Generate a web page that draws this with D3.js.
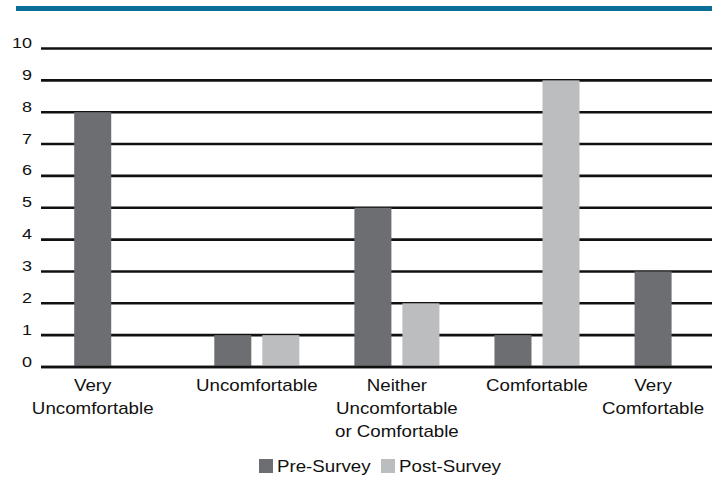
<!DOCTYPE html>
<html>
<head>
<meta charset="utf-8">
<script src="https://cdn.jsdelivr.net/npm/d3@7"></script>
<style>
  body { margin: 0; background: #fff; }
  text { font-family: "Liberation Sans", Arial, Helvetica, sans-serif; fill: #111; }
</style>
</head>
<body>
<div class="container"></div>
<script>
const categories = [
  ["Very", "Uncomfortable"],
  ["Uncomfortable"],
  ["Neither", "Uncomfortable", "or Comfortable"],
  ["Comfortable"],
  ["Very", "Comfortable"]
]
const categoryKeys = categories.map(c => c.join(" "))
const series = ["Pre-Survey", "Post-Survey"]
const preSurvey = [8, 1, 5, 1, 3]
const postSurvey = [0, 1, 2, 9, 0]
const yTicks = [0, 1, 2, 3, 4, 5, 6, 7, 8, 9, 10]

const colors = { "Pre-Survey": "#6d6e71", "Post-Survey": "#bcbdbf" }

const width = 725, height = 481
const stretch = 1.17   // the type in the picture runs wider than Arial

const svg = d3.select(".container")
  .append("svg")
  .attr("width", width)
  .attr("height", height)

// blue rule across the top
svg.append("rect")
  .attr("x", 16).attr("y", 6)
  .attr("width", 696).attr("height", 5)
  .attr("fill", "#0a6f98")

const y = d3.scaleLinear()
  .domain([0, 10])
  .range([367, 48.5])

const x0 = d3.scaleBand()
  .domain(categoryKeys)
  .range([74.2, 719.6])
  .paddingInner(0.393)
  .paddingOuter(0)

const x1 = d3.scaleBand()
  .domain(series)
  .range([0, x0.bandwidth()])
  .paddingInner(0.229)
  .paddingOuter(0)

// grid lines
svg.append("g")
  .selectAll("line")
  .data(yTicks)
  .enter()
  .append("line")
  .attr("x1", 41)
  .attr("x2", 712)
  .attr("y1", d => y(d))
  .attr("y2", d => y(d))
  .attr("stroke", "#111")
  .attr("stroke-width", 2.6)

// y tick labels
svg.append("g")
  .selectAll("text")
  .data(yTicks)
  .enter()
  .append("text")
  .attr("transform", d => "translate(32," + (y(d) - 0.5) + ") scale(1.2,1)")
  .attr("text-anchor", "end")
  .style("font-size", "15px")
  .text(d => d)

// bars
const rows = categoryKeys.map((k, i) => ({
  key: k,
  values: [
    { s: "Pre-Survey", v: preSurvey[i] },
    { s: "Post-Survey", v: postSurvey[i] }
  ]
}))

const group = svg.append("g")
  .selectAll("g")
  .data(rows)
  .enter()
  .append("g")
  .attr("transform", d => "translate(" + x0(d.key) + ",0)")

group.selectAll("rect")
  .data(d => d.values.filter(v => v.v > 0))
  .enter()
  .append("rect")
  .attr("x", d => x1(d.s))
  .attr("y", d => y(d.v))
  .attr("width", x1.bandwidth())
  .attr("height", d => y(0) - y(d.v))
  .attr("fill", d => colors[d.s])

// zero line on top
svg.append("line")
  .attr("x1", 41).attr("x2", 712)
  .attr("y1", y(0)).attr("y2", y(0))
  .attr("stroke", "#111")
  .attr("stroke-width", 2.6)

// category labels, centred on the bars that are drawn
const labels = svg.append("g")
  .selectAll("text")
  .data(rows)
  .enter()
  .append("text")
  .attr("text-anchor", "middle")
  .style("font-size", "16px")
  .attr("transform", d => {
    const shown = d.values.filter(v => v.v > 0)
    const a = x1(shown[0].s)
    const b = x1(shown[shown.length - 1].s) + x1.bandwidth()
    return "translate(" + (x0(d.key) + (a + b) / 2) + ",0) scale(" + stretch + ",1)"
  })

labels.each(function (d, i) {
  d3.select(this).selectAll("tspan")
    .data(categories[i])
    .enter()
    .append("tspan")
    .attr("x", 0)
    .attr("y", (t, j) => 391 + j * 23)
    .text(t => t)
})

// legend
const legend = svg.append("g")
const legendX = [259, 381]
series.forEach((s, i) => {
  legend.append("rect")
    .attr("x", legendX[i]).attr("y", 459)
    .attr("width", 14).attr("height", 14)
    .attr("fill", colors[s])
  legend.append("text")
    .attr("transform", "translate(" + (legendX[i] + 18) + ",472) scale(" + stretch + ",1)")
    .style("font-size", "16px")
    .text(s)
})
</script>
</body>
</html>
